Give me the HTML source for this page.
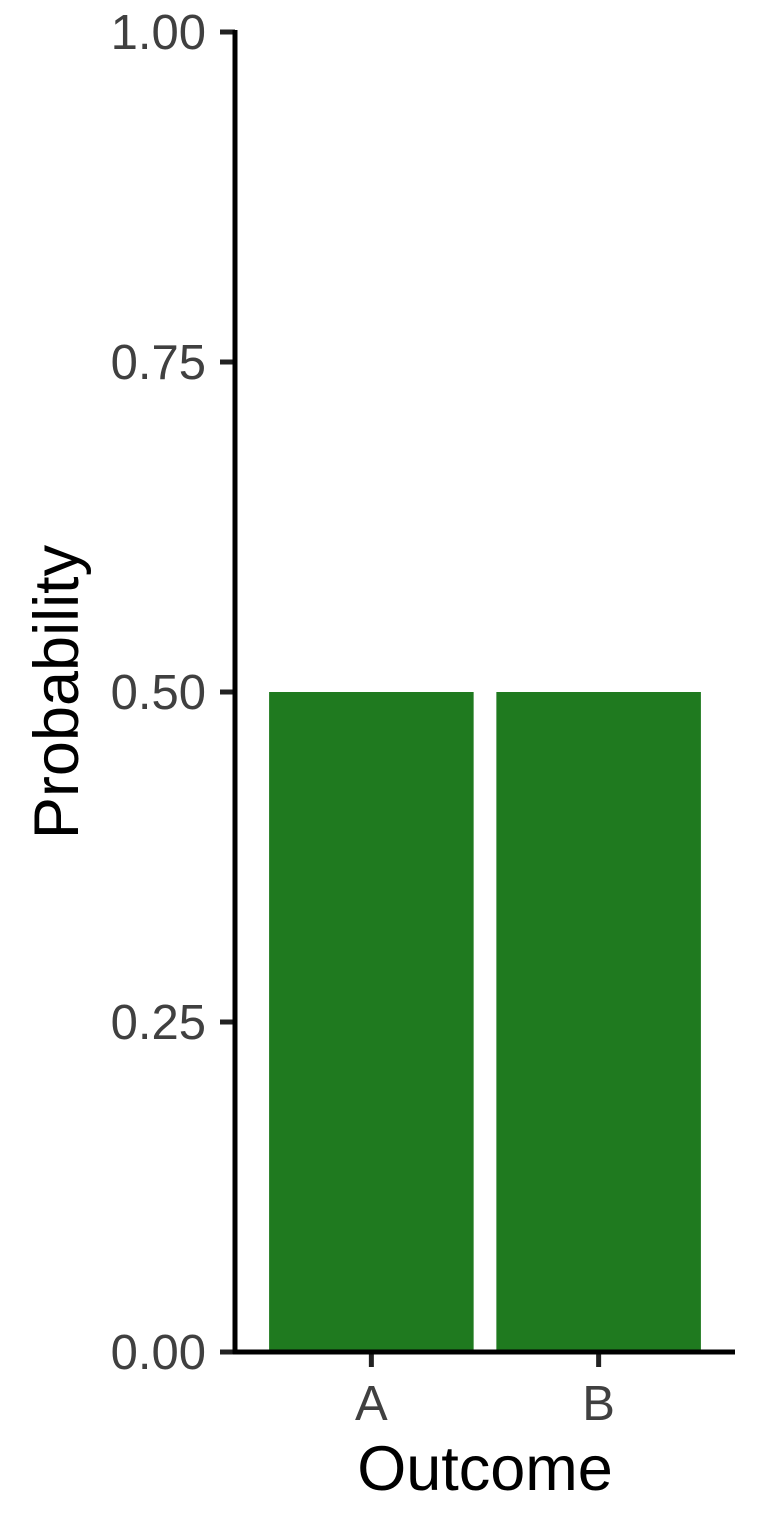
<!DOCTYPE html>
<html><head><meta charset="utf-8"><style>
html,body{margin:0;padding:0;background:#fff;}
svg{display:block;font-family:"Liberation Sans",Arial,sans-serif;}
</style></head><body>
<svg id="chart" width="768" height="1536" viewBox="0 0 768 1536">
<g id="bars"></g>
<g id="yaxis"></g>
<g id="xaxis"></g>
<text x="78" y="692" transform="rotate(-90 78 692)" text-anchor="middle" font-size="63" fill="#000">Probability</text>
<text x="485" y="1490" text-anchor="middle" font-size="63" fill="#000">Outcome</text>
</svg>
<script>
const categories = ["A","B"];
const values = [0.5,0.5];
const yTicks = [0,0.25,0.5,0.75,1];
const yTickLabels = ["0.00","0.25","0.50","0.75","1.00"];

const NS="http://www.w3.org/2000/svg";
const y0=1352,y1=32,xL=235,xR=735;
function yScale(v){return y0-(y0-y1)*v;}
const step=(xR-xL)/(categories.length-1+1.2);
function xScale(i){return xL+step*(0.6+i);}
function mk(tag,attrs,parent){const e=document.createElementNS(NS,tag);for(const k in attrs)e.setAttribute(k,attrs[k]);parent.appendChild(e);return e;}
const bars=document.getElementById('bars'),ya=document.getElementById('yaxis'),xa=document.getElementById('xaxis');
categories.forEach((c,i)=>{
  const w=step*0.9,cx=xScale(i);
  const r=mk('rect',{x:cx-w/2,y:yScale(values[i]),width:w,height:y0-yScale(values[i]),fill:'#1f7a1f'},bars);
  
  
  const t=mk('line',{x1:cx,x2:cx,y1:y0,y2:y0+15,stroke:'#222','stroke-width':5},xa);
  
  
  const l=mk('text',{x:cx,y:1420,'text-anchor':'middle','font-size':49,fill:'#404040'},xa);
  l.textContent=c;
  
  
});
yTicks.forEach((v,i)=>{
  const y=yScale(v);
  const t=mk('line',{x1:220,x2:xL,y1:y,y2:y,stroke:'#222','stroke-width':5},ya);
  
  
  const l=mk('text',{x:206,y:y+17,'text-anchor':'end','font-size':49,fill:'#404040'},ya);
  l.textContent=yTickLabels[i];
  
  
});
const yl=mk('line',{x1:xL,x2:xL,y1:y1-2,y2:y0+2,stroke:'#000','stroke-width':5},ya);


const xl=mk('line',{x1:xL-2,x2:xR,y1:y0,y2:y0,stroke:'#000','stroke-width':5},xa);


</script>
</body></html>
